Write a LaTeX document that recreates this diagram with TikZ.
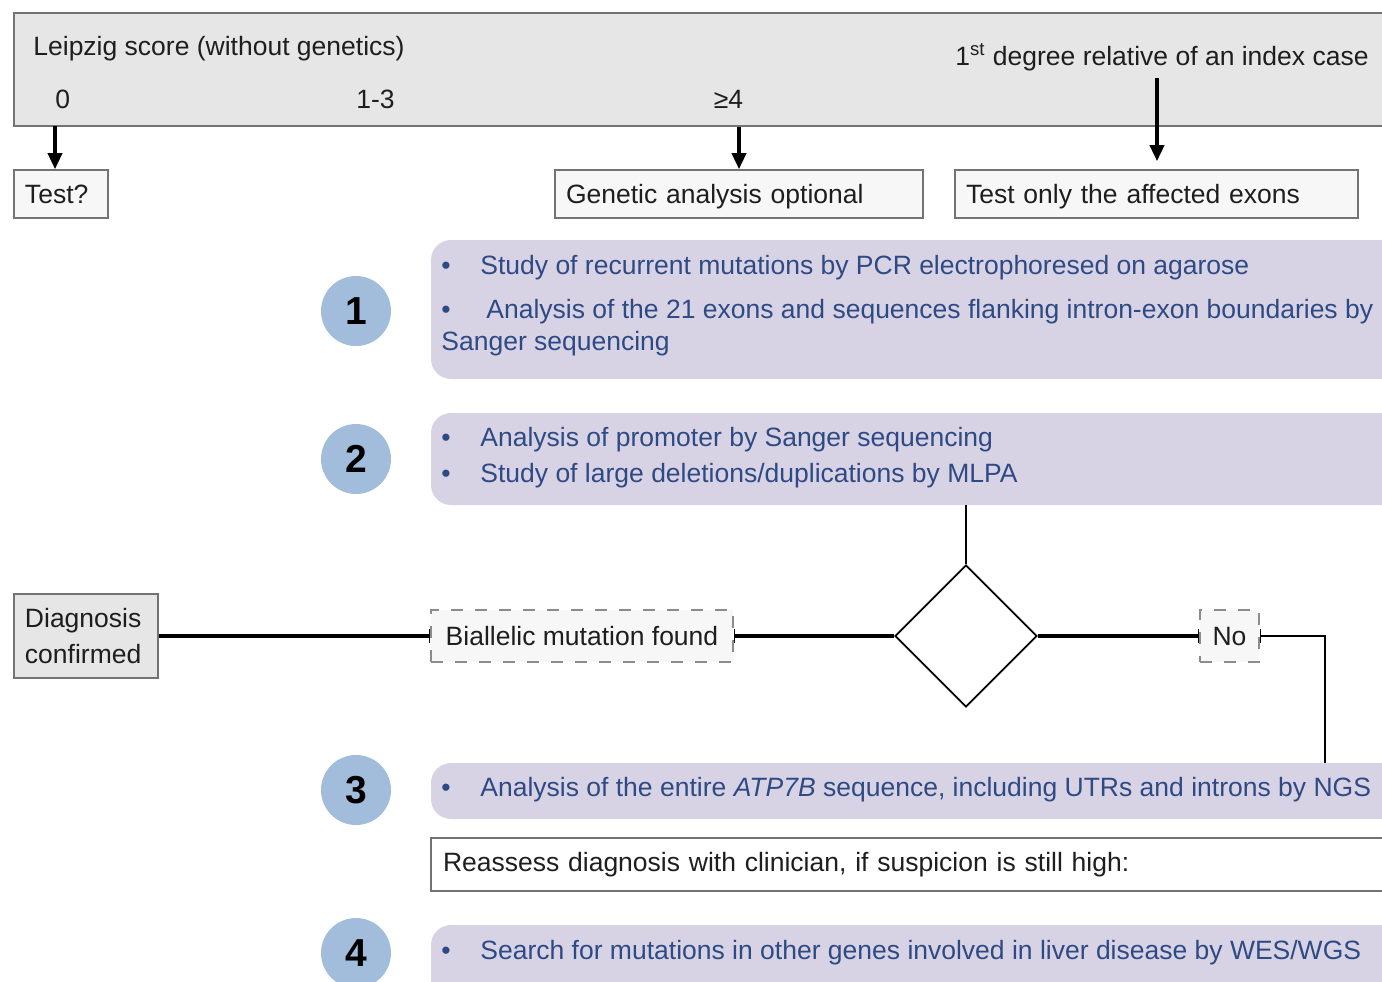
\documentclass[tikz,border=0pt]{standalone}
\usepackage{fontspec}
\setmainfont{Liberation Sans}
\usetikzlibrary{shapes}
\usetikzlibrary{shapes.geometric}
\usetikzlibrary{arrows.meta}

\definecolor{bargray}{RGB}{230,230,230}
\definecolor{edgegray}{RGB}{115,115,115}
\definecolor{boxfill}{RGB}{247,247,247}
\definecolor{dashgray}{RGB}{140,140,140}
\definecolor{steppurple}{RGB}{216,211,228}
\definecolor{numblue}{RGB}{162,189,220}
\definecolor{textblue}{RGB}{46,74,133}
\definecolor{textdark}{RGB}{30,30,30}

\begin{document}
\begin{tikzpicture}
			[x=0.5pt, y=-0.5pt,
			every node/.style={font=\fontsize{13.25}{18}\selectfont, text=textdark},
			scorebar/.style={draw=edgegray, fill=bargray, line width=1pt, inner sep=0pt},
			infobox/.style={draw=edgegray, fill=boxfill, line width=0.8pt, inner xsep=5.5pt, inner ysep=0pt, minimum height=24pt, text height=10pt, text depth=1pt, align=left},
			resultbox/.style={draw=edgegray, fill=bargray, line width=0.8pt, inner xsep=5.5pt, inner ysep=0pt, minimum height=42pt, align=left},
			notebox/.style={draw=edgegray, fill=white, line width=0.8pt, inner xsep=6pt, inner ysep=0pt, minimum height=26.5pt, text width=482.5pt, align=left},
			stepbox/.style={fill=steppurple, rounded corners=10pt, inner sep=0pt, minimum width=494.5pt},
			stepnum/.style={circle, fill=numblue, inner sep=0pt, minimum size=35pt, font=\fontsize{19.5}{20}\selectfont\bfseries, text=black},
			steptext/.style={anchor=base west, inner sep=0pt, text=textblue},
			plaintext/.style={anchor=base west, inner sep=0pt},
			labelbox/.style={draw=dashgray, fill=boxfill, dash pattern=on 6pt off 6pt, line width=0.8pt, minimum height=26pt, inner sep=0pt},
			decision/.style={diamond, draw, line width=0.9pt, minimum width=71pt, minimum height=71pt, inner sep=0pt},
			flow/.style={line width=1.8pt},
			endbar/.tip={Bar[width=7pt, line width=0.8pt]},
			>={Triangle[width=7pt, length=8pt]}]
			
			\useasboundingbox (0,0) rectangle (1382,981);
			\clip (0,0) rectangle (1382,981);
			
			% score bar and its entries
			\node[scorebar, minimum width=693pt, minimum height=56.5pt] (bar) at (707,69.5) {};
			\node[plaintext] (leipzig) at (33,55.5) {Leipzig score (without genetics)};
			\node[plaintext] (zero) at (55,108.5) {0};
			\node[plaintext] (onethree) at (356,108.5) {1-3};
			\node[plaintext] (four) at (713.5,108.5) {≥4};
			\node[plaintext] (relative) at (955,65.5) {1\textsuperscript{st} degree relative of an index case};
			
			\node[infobox, text width=36pt] (test) at (61,194) {Test?};
			\node[infobox, text width=173pt] (genetic) at (739,194) {Genetic analysis optional};
			\node[infobox, text width=190.5pt] (exons) at (1156.5,194) {Test only the affected exons};
			
			\coordinate (zerotap) at (55,126);
			\coordinate (reltap) at (1157,78);
			\draw[flow, ->] (zerotap) to (zerotap |- test.north);
			\draw[flow, ->] (genetic.north |- bar.south) to (genetic.north);
			\draw[flow, ->, shorten >=4pt] (reltap) to (reltap |- exons.north);
			
			% steps
			\node[stepbox, minimum height=69.5pt] (step1) at (925.5,309.5) {};
			\node[stepbox, minimum height=46pt] (step2) at (925.5,459) {};
			\node[stepbox, minimum height=28pt] (step3) at (925.5,791) {};
			\node[notebox] (reassess) at (925.5,864.5) {Reassess diagnosis with clinician, if suspicion is still high:};
			\node[stepbox, minimum height=37.5pt] (step4) at (925.5,962.5) {};
			
			\node[stepnum] (num1) at (356,311) {1};
			\node[stepnum] (num2) at (356,459) {2};
			\node[stepnum] (num3) at (356,790) {3};
			\node[stepnum] (num4) at (356,953) {4};
			
			\node[steptext] (s1a) at (441,274.5) {\makebox[19.5pt][l]{•}Study of recurrent mutations by PCR electrophoresed on agarose};
			\node[steptext] (s1b) at (441,318.5) {\makebox[22.5pt][l]{•}Analysis of the 21 exons and sequences flanking intron-exon boundaries by};
			\node[steptext] (s1c) at (441,350.5) {Sanger sequencing};
			\node[steptext] (s2a) at (441,446.5) {\makebox[19.5pt][l]{•}Analysis of promoter by Sanger sequencing};
			\node[steptext] (s2b) at (441,482.5) {\makebox[19.5pt][l]{•}Study of large deletions/duplications by MLPA};
			\node[steptext] (s3a) at (441,796.5) {\makebox[19.5pt][l]{•}Analysis of the entire \textit{ATP7B} sequence, including UTRs and introns by NGS};
			\node[steptext] (s4a) at (441,959.5) {\makebox[19.5pt][l]{•}Search for mutations in other genes involved in liver disease by WES/WGS};
			
			% decision row
			\node[resultbox, text width=61pt] (diag) at (86,636) {Diagnosis\\confirmed};
			\node[labelbox, minimum width=151pt] (bial) at (582,636) {Biallelic mutation found};
			\node[decision] (check) at (966,636) {};
			\node[labelbox, minimum width=29.5pt] (no) at (1229.5,636) {No};
			\coordinate (loopcorner) at (1325,763);
			
			\draw[line width=1pt] (check.north |- step2.south) to (check);
			\draw[flow, -endbar] (diag) to (bial);
			\draw[flow, endbar-] (bial) to (check);
			\draw[flow, -endbar] (check) to (no);
			\draw[line width=1.2pt, endbar-] (no.east) -| (loopcorner);
		\end{tikzpicture}
\end{document}
